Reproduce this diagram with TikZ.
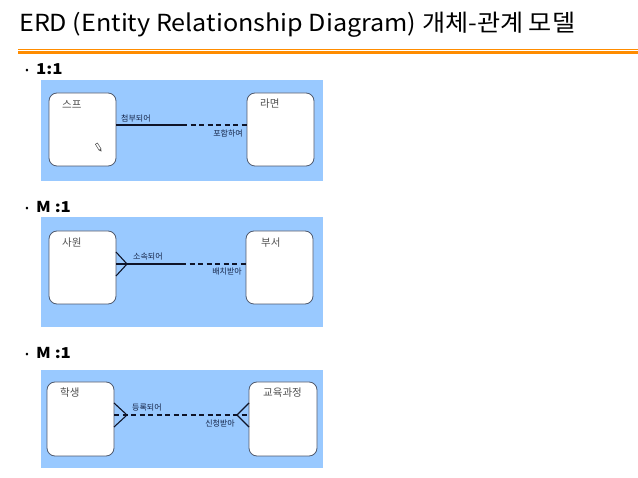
\documentclass[tikz,border=0pt]{standalone}
\usepackage{fontspec}
\setmainfont{Noto Sans CJK KR}
\begin{document}
\begin{tikzpicture}[x=1pt,y=-1pt,
  panel/.style={fill={rgb,255:red,153;green,201;blue,255},draw=none},
  entity/.style={draw={rgb,255:red,80;green,90;blue,110},fill=white,rounded corners=8pt,line width=0.8pt},
  entname/.style={font=\fontsize{10.5}{10.5}\selectfont,text={rgb,255:red,80;green,80;blue,80},inner sep=0pt},
  rel/.style={font=\fontsize{8}{8}\selectfont,text={rgb,255:red,20;green,35;blue,70},inner sep=0pt},
  link/.style={line width=1.1pt,draw={rgb,255:red,15;green,20;blue,40}},
  dlink/.style={link,dash pattern=on 5pt off 3.5pt},
  dot/.style={font=\fontsize{10}{10}\selectfont,inner sep=0pt},
  bul/.style={font=\fontsize{15}{15}\selectfont\bfseries,inner sep=0pt,anchor=west,xscale=1.12}]
\useasboundingbox (0,0) rectangle (638,478);
\fill[white] (0,0) rectangle (638,478);
% title
\node[anchor=west,inner sep=0pt,font=\fontsize{23.5}{23.5}\selectfont,xscale=1.07] (title) at (19,25) {ERD (Entity Relationship Diagram) 개체-관계 모델};
\fill[orange!90!yellow] (18,48.6) rectangle (638,49.6);
\fill[orange!90!yellow] (18,51) rectangle (638,54);
% ---------- panel 1
\node[dot] (d1) at (27,71) {\textbullet};
\node[bul] (b1) at (36,69) {1:1};
\fill[panel] (41,80) rectangle (323,181);
\draw[entity] (49,93) rectangle (116,166);
\draw[entity] (247,93) rectangle (314,166);
\coordinate (a1) at (116,125);
\coordinate (m1) at (182,125);
\coordinate (c1) at (247,125);
\draw[link] (a1) -- (m1);
\draw[dlink] (m1) -- (c1);
\node[entname,anchor=west] (e1) at (62,104) {스프};
\node[entname,anchor=west] (e2) at (260,104) {라면};
\node[rel,anchor=west] (r1) at (121,118) {첨부되어};
\node[rel,anchor=east] (r2) at (243,133) {포함하여};
% pencil cursor
\begin{scope}[shift={(98.5,147)},rotate=-58]
\draw[line width=0.5pt,fill=white,draw=black!70] (-4,-1.2) rectangle (3,1.2);
\fill[black!70] (3,-1.2) -- (5.5,0) -- (3,1.2) -- cycle;
\end{scope}
% ---------- panel 2
\node[dot] (d2) at (27,209) {\textbullet};
\node[bul] (b2) at (36,207) {M :1};
\fill[panel] (41,217) rectangle (323,327);
\draw[entity] (49,231) rectangle (116,304);
\draw[entity] (246,231) rectangle (313,304);
\coordinate (a2) at (116,264);
\coordinate (p2) at (127,264);
\coordinate (m2) at (181,264);
\coordinate (c2) at (246,264);
\coordinate (u2) at (116,252);
\coordinate (l2) at (116,276);
\draw[link] (a2) -- (m2);
\draw[link] (u2) -- (p2) -- (l2);
\draw[dlink] (m2) -- (c2);
\node[entname,anchor=west] (e3) at (62,243) {사원};
\node[entname,anchor=west] (e4) at (261,243) {부서};
\node[rel,anchor=west] (r3) at (133,257) {소속되어};
\node[rel,anchor=east] (r4) at (242,272) {배치받아};
% ---------- panel 3
\node[dot] (d3) at (27,355) {\textbullet};
\node[bul] (b3) at (36,353) {M :1};
\fill[panel] (41,370) rectangle (323,468);
\draw[entity] (47,382) rectangle (114,456);
\draw[entity] (249,382) rectangle (317,456);
\coordinate (a3) at (114,415);
\coordinate (c3) at (249,415);
\coordinate (p3) at (127,415);
\coordinate (q3) at (237,415);
\coordinate (u3) at (114,403);
\coordinate (l3) at (114,427);
\coordinate (u4) at (249,403);
\coordinate (l4) at (249,427);
\draw[dlink] (a3) -- (c3);
\draw[link] (u3) -- (p3) -- (l3);
\draw[link] (u4) -- (q3) -- (l4);
\node[entname,anchor=west] (e5) at (60,393) {학생};
\node[entname,anchor=west] (e6) at (263,393) {교육과정};
\node[rel,anchor=west] (r5) at (132,408) {등록되어};
\node[rel,anchor=east] (r6) at (235,423) {신청받아};
\end{tikzpicture}
\end{document}
